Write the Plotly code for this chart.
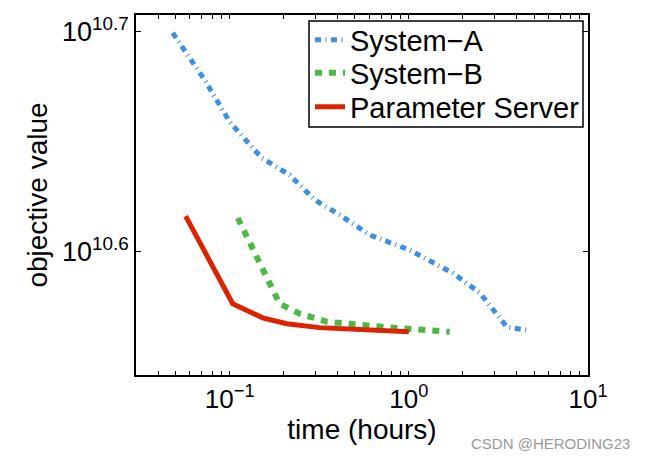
import plotly.graph_objects as go
import numpy as np

# ---- data ----
sysA_time = [0.0481, 0.0724, 0.100, 0.151, 0.216, 0.299, 0.412, 0.606, 1.01, 1.76, 2.49, 3.53, 4.56]
sysA_obj = [5.006e10, 4.766e10, 4.561e10, 4.392e10, 4.315e10, 4.203e10, 4.138e10, 4.052e10,
            3.989e10, 3.894e10, 3.814e10, 3.680e10, 3.668e10]

sysB_time = [0.111, 0.190, 0.246, 0.348, 0.689, 1.69]
sysB_obj = [4.125e10, 3.771e10, 3.732e10, 3.701e10, 3.682e10, 3.662e10]

ps_time = [0.0568, 0.104, 0.153, 0.208, 0.318, 1.0]
ps_obj = [4.133e10, 3.771e10, 3.716e10, 3.693e10, 3.678e10, 3.662e10]

series_names = ["System\u2212A", "System\u2212B", "Parameter Server"]

x_major = [0.1, 1, 10]
x_major_text = ["10<sup>\u22121</sup>", "10<sup>0</sup>", "10<sup>1</sup>"]
y_major = [10 ** 10.6, 10 ** 10.7]
y_major_text = ["10<sup>10.6</sup>", "10<sup>10.7</sup>"]

FONT = "Liberation Sans, Arial, Helvetica, sans-serif"

# plot-area geometry in pixels
L, R, T, B = 136, 588, 15, 375
W, H = R - L, B - T


def px(x):
    return (x - L) / W


def py(y):
    return 1 - (y - T) / H


# tick positions (major + minor) on x
xticks, xtext = [], []
for dec in [0.01, 0.1, 1]:
    for m in range(1, 10):
        v = round(m * dec, 4)
        if v < 0.03:
            continue
        xticks.append(v)
        xtext.append("")
xticks.append(10)
xtext.append("")
for v, t in zip(x_major, x_major_text):
    for i, xv in enumerate(xticks):
        if abs(xv - v) < 1e-9:
            xtext[i] = t

fig = go.Figure()
fig.add_trace(go.Scatter(x=sysA_time, y=sysA_obj, mode="lines", name=series_names[0],
                         legend="legend",
                         line=dict(color="#3f8fe0", width=5, dash="6px,4.5px,1px,4.5px")))
fig.add_trace(go.Scatter(x=sysB_time, y=sysB_obj, mode="lines", name=series_names[1],
                         legend="legend2",
                         line=dict(color="#4cb944", width=6, dash="7px,7px")))
fig.add_trace(go.Scatter(x=ps_time, y=ps_obj, mode="lines", name=series_names[2],
                         legend="legend3",
                         line=dict(color="#dd2200", width=5)))

leg_common = dict(xanchor="left", yanchor="middle", bgcolor="rgba(0,0,0,0)",
                  borderwidth=0, font=dict(size=29, family=FONT, color="black"))
fig.update_layout(
    width=648, height=460,
    margin=dict(l=L, r=648 - R, t=T, b=460 - B),
    paper_bgcolor="white", plot_bgcolor="white",
    font=dict(family=FONT, color="black"),
    showlegend=True,
    legend=dict(x=px(310), y=py(40), **leg_common),
    legend2=dict(x=px(310), y=py(73), **leg_common),
    legend3=dict(x=px(310), y=py(107), **leg_common),
)
# legend frame
fig.add_shape(type="rect", xref="paper", yref="paper",
              x0=px(309), x1=px(583), y0=py(127), y1=py(21),
              line=dict(color="black", width=1.5), fillcolor="white", layer="below")

fig.add_annotation(text="CSDN @HERODING23", xref="paper", yref="paper",
                   x=px(632), y=py(443), xanchor="right", yanchor="middle",
                   showarrow=False, font=dict(size=15, color="#999999", family=FONT))

fig.update_xaxes(type="log", range=[np.log10(0.03), 1],
                 tickmode="array", tickvals=xticks, ticktext=xtext,
                 ticks="inside", ticklen=4, tickwidth=1, tickcolor="black",
                 showline=True, linecolor="black", linewidth=1.5, mirror="ticks",
                 showgrid=False, zeroline=False,
                 tickfont=dict(size=26, family=FONT),
                 title=dict(text="time (hours)", font=dict(size=28, family=FONT), standoff=2))
fig.update_yaxes(type="log", range=[10.5441, 10.7076],
                 tickmode="array", tickvals=y_major, ticktext=y_major_text,
                 ticks="inside", ticklen=5, tickwidth=1, tickcolor="black",
                 showline=True, linecolor="black", linewidth=1.5, mirror="ticks",
                 showgrid=False, zeroline=False,
                 tickfont=dict(size=27, family=FONT),
                 title=dict(text="objective value", font=dict(size=28, family=FONT), standoff=6))

fig.write_html("out.html")
